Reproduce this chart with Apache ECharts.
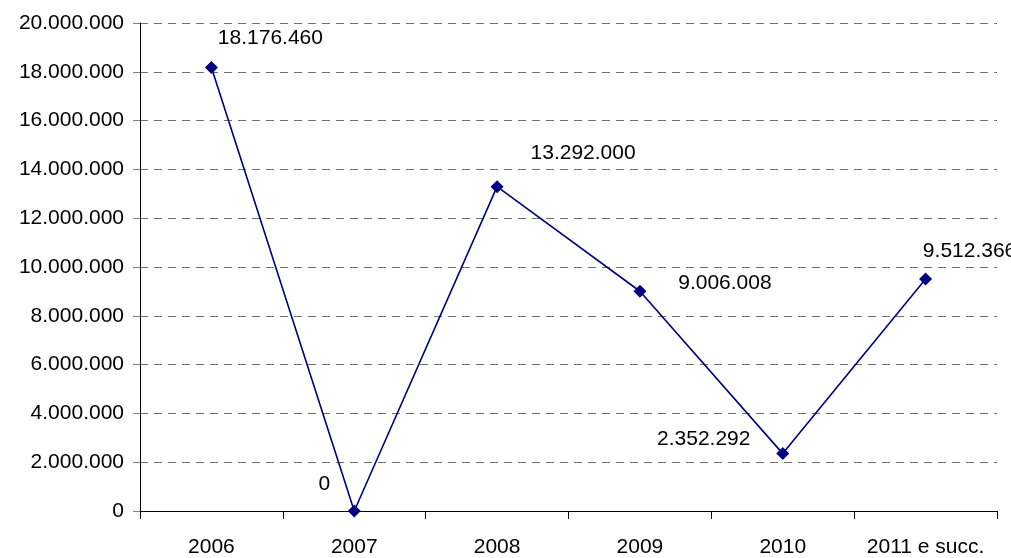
<!DOCTYPE html>
<html><head><meta charset="utf-8">
<script src="https://cdn.jsdelivr.net/npm/echarts@6/dist/echarts.min.js"></script>
<style>html,body{margin:0;padding:0;background:#fff}#c{width:1011px;height:558px}</style>
</head><body><div id="c"></div>
<script>
const categories = ["2006", "2007", "2008", "2009", "2010", "2011 e succ."];
const values = [18176460, 0, 13292000, 9006008, 2352292, 9512366];
const labelOffsets = [[59, -29], [-30, -27], [86, -33], [85, -8], [-79, -14], [44, -28]];

function fmt(v) {
  return String(Math.round(v)).replace(/\B(?=(\d{3})+(?!\d))/g, '.');
}

const chart = echarts.init(document.getElementById('c'));
const font = 'Liberation Sans, Arial, sans-serif';
chart.setOption({
  animation: false,
  grid: { left: 140, right: 14, top: 23, bottom: 47 },
  xAxis: {
    type: 'category',
    data: categories,
    boundaryGap: true,
    axisLine: { lineStyle: { color: '#000', width: 1 } },
    axisTick: { show: true, length: 8, inside: false, interval: 0, lineStyle: { color: '#000' } },
    axisLabel: { color: '#000', fontSize: 21, fontFamily: font, margin: 26, interval: 0 },
    splitLine: { show: false }
  },
  yAxis: {
    type: 'value',
    min: 0, max: 20000000, interval: 2000000,
    axisLine: { show: true, lineStyle: { color: '#000', width: 1 } },
    axisTick: { show: true, length: 7, lineStyle: { color: '#808080', type: [8, 6] } },
    axisLabel: { color: '#000', fontSize: 21, fontFamily: font, margin: 16, formatter: fmt },
    splitLine: { show: true, lineStyle: { color: '#707070', width: 1, type: [8, 6] } }
  },
  series: [{
    type: 'line',
    data: values.map((v, i) => ({
      value: v,
      label: { show: true, position: 'inside', offset: labelOffsets[i] }
    })),
    symbol: 'diamond',
    symbolSize: 13,
    itemStyle: { color: '#000080' },
    lineStyle: { color: '#000080', width: 1.6 },
    label: { show: true, color: '#000', fontSize: 21, fontFamily: font, formatter: p => fmt(p.value) },
    clip: false
  }]
});
</script></body></html>
